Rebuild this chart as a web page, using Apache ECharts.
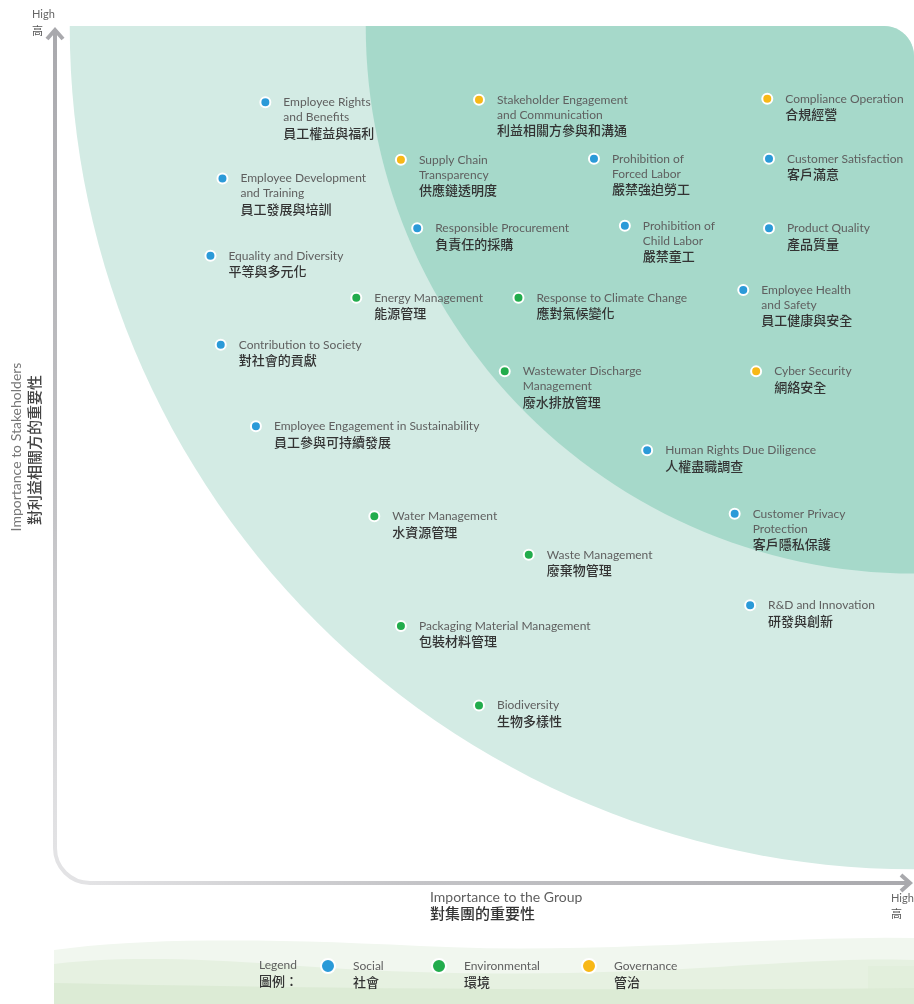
<!DOCTYPE html>
<html>
<head>
<meta charset="utf-8">
<script src="https://cdn.jsdelivr.net/npm/echarts@6/dist/echarts.min.js"></script>
<style>
  html, body { margin: 0; padding: 0; background: #fff; }
  #chart { width: 914px; height: 1004px; }
</style>
</head>
<body>
<div id="chart"></div>
<script>
// materiality topics, english / chinese
const topicsEn = [
  'Employee Rights\nand Benefits', 'Stakeholder Engagement\nand Communication', 'Compliance Operation',
  'Employee Development\nand Training', 'Supply Chain\nTransparency', 'Prohibition of\nForced Labor',
  'Customer Satisfaction', 'Responsible Procurement', 'Prohibition of\nChild Labor', 'Product Quality',
  'Equality and Diversity', 'Energy Management', 'Response to Climate Change',
  'Employee Health\nand Safety', 'Contribution to Society', 'Wastewater Discharge\nManagement',
  'Cyber Security', 'Employee Engagement in Sustainability', 'Human Rights Due Diligence',
  'Water Management', 'Customer Privacy\nProtection', 'Waste Management', 'R&D and Innovation',
  'Packaging Material Management', 'Biodiversity'
];
const topicsZh = [
  '員工權益與福利', '利益相關方參與和溝通', '合規經營',
  '員工發展與培訓', '供應鏈透明度', '嚴禁強迫勞工',
  '客戶滿意', '負責任的採購', '嚴禁童工', '產品質量',
  '平等與多元化', '能源管理', '應對氣候變化',
  '員工健康與安全', '對社會的貢獻', '廢水排放管理',
  '網絡安全', '員工參與可持續發展', '人權盡職調查',
  '水資源管理', '客戶隱私保護', '廢棄物管理', '研發與創新',
  '包裝材料管理', '生物多樣性'
];
// importance to the group (x) and to stakeholders (y), 0-100
const groupImportance = [
  24.4, 49.3, 82.9,
  19.4, 40.2, 62.7,
  83.1, 42.1, 66.3, 83.1,
  18.0, 35.0, 53.9,
  80.1, 19.2, 52.3,
  81.6, 23.3, 68.9,
  37.1, 79.1, 55.1, 80.9,
  40.2, 49.3
];
const stakeholderImportance = [
  91.1, 91.4, 91.5,
  82.2, 84.4, 84.5,
  84.5, 76.4, 76.7, 76.4,
  73.2, 68.3, 68.3,
  69.2, 62.8, 59.7,
  59.7, 53.3, 50.5,
  42.8, 43.1, 38.3, 32.4,
  30.0, 20.7
];
// 0 social, 1 environmental, 2 governance
const pillar = [
  0, 2, 2,
  0, 2, 0,
  0, 0, 0, 0,
  0, 1, 1,
  0, 0, 1,
  2, 0, 0,
  1, 0, 1, 0,
  1, 1
];
const categories = ['Social', 'Environmental', 'Governance'];
const categoriesZh = ['社會', '環境', '管治'];
const categoryColors = ['#2b9ad8', '#22ac4c', '#f8b817'];

// background zones: quarter ellipses around the high/high corner
const zoneCenter = [100, 100];
const zoneRadii = [98.4, 63.9];
const zoneColors = ['#d3ebe4', '#a6d9ca'];

const EN_FONT = 'Lato, "Open Sans", sans-serif';
const ZH_FONT = '"Noto Sans CJK TC", "Noto Sans CJK SC", sans-serif';

const chart = echarts.init(document.getElementById('chart'), null, { renderer: 'canvas' });

function zonePoints(api, radius) {
  const c = api.coord(zoneCenter);
  const rx = api.size([radius, 0])[0];
  const ry = api.size([0, radius])[1];
  const rc = 30;
  const pts = [[c[0] - rx, c[1]]];
  for (let i = 0; i <= 12; i++) {
    const a = -Math.PI / 2 + (Math.PI / 2) * i / 12;
    pts.push([c[0] - rc + rc * Math.cos(a), c[1] + rc + rc * Math.sin(a)]);
  }
  for (let i = 0; i <= 60; i++) {
    const a = Math.PI / 2 + (Math.PI / 2) * i / 60;
    pts.push([c[0] + rx * Math.cos(a), c[1] + ry * Math.sin(a)]);
  }
  return pts;
}

// sample a chain of cubic curves into a closed band down to the page bottom
function wave(start, segs) {
  const pts = [start];
  let p0 = start;
  segs.forEach(function (s) {
    for (let i = 1; i <= 16; i++) {
      const t = i / 16, u = 1 - t;
      pts.push([
        u * u * u * p0[0] + 3 * u * u * t * s[0][0] + 3 * u * t * t * s[1][0] + t * t * t * s[2][0],
        u * u * u * p0[1] + 3 * u * u * t * s[0][1] + 3 * u * t * t * s[1][1] + t * t * t * s[2][1]
      ]);
    }
    p0 = s[2];
  });
  pts.push([914, 1004], [start[0], 1004]);
  return pts;
}

function labelText(i) {
  const en = topicsEn[i].split('\n').map(function (s) { return '{en|' + s + '}'; }).join('\n');
  return en + '\n{zh|' + topicsZh[i] + '}';
}

const series = [{
  type: 'custom',
  silent: true,
  z: 1,
  clip: false,
  data: [zoneCenter],
  renderItem: function (params, api) {
    return {
      type: 'group',
      children: zoneRadii.map(function (r, k) {
        return {
          type: 'polygon',
          shape: { points: zonePoints(api, r) },
          style: { fill: zoneColors[k] }
        };
      })
    };
  }
}];

categories.forEach(function (cat, k) {
  const data = [];
  for (let i = 0; i < topicsEn.length; i++) {
    if (pillar[i] !== k) continue;
    data.push({ value: [groupImportance[i], stakeholderImportance[i]], name: topicsEn[i], label: { formatter: labelText(i) } });
  }
  series.push({
    name: cat,
    type: 'scatter',
    z: 3,
    symbol: 'circle',
    symbolSize: 10,
    itemStyle: { color: categoryColors[k], borderColor: '#fff', borderWidth: 2, opacity: 1 },
    emphasis: { disabled: true },
    label: {
      show: true,
      position: [24, -1.5],
      align: 'left',
      verticalAlign: 'top',
      rich: {
        en: { fontFamily: EN_FONT, fontSize: 12, color: '#5f5f5f', lineHeight: 15 },
        zh: { fontFamily: ZH_FONT, fontSize: 13, fontWeight: 500, color: '#333', lineHeight: 16 }
      }
    },
    data: data
  });
});

const legendX = [320, 431, 581];
const legends = categories.map(function (cat, k) {
  return {
    data: [cat],
    left: legendX[k],
    top: 958,
    padding: 0,
    itemWidth: 14,
    itemHeight: 14,
    icon: 'circle',
    selectedMode: false,
    formatter: function (name) { return '{en|' + name + '}\n{zh|' + categoriesZh[k] + '}'; },
    textStyle: {
      padding: [16, 0, 0, 13],
      rich: {
        en: { fontFamily: EN_FONT, fontSize: 12, color: '#5f5f5f', lineHeight: 16 },
        zh: { fontFamily: ZH_FONT, fontSize: 13, fontWeight: 500, color: '#333', lineHeight: 16 }
      }
    }
  };
});

const axisGrey = '#a9a9ad';
const axisLight = '#e3e3e5';

chart.setOption({
  animation: false,
  grid: { left: 56, right: 0, top: 26, bottom: 121 },
  xAxis: { type: 'value', min: 0, max: 100, show: false },
  yAxis: { type: 'value', min: 0, max: 100, show: false },
  legend: legends,
  graphic: [
    // wavy band behind the legend
    { type: 'polygon', z: 0, silent: true, shape: { points: wave([54, 950], [[[140, 938], [260, 938], [420, 946]], [[600, 955], [760, 936], [914, 938]]]) }, style: { fill: '#f1f7ef' } },
    { type: 'polygon', z: 0, silent: true, shape: { points: wave([54, 964], [[[120, 956], [200, 958], [300, 966]], [[420, 975], [560, 976], [700, 968]], [[800, 962], [860, 958], [914, 960]]]) }, style: { fill: '#e6f1e1' } },
    { type: 'rect', z: 0, silent: true, shape: { x: 868, y: 966, width: 46, height: 24 }, style: { fill: '#e2efdc' } },
    { type: 'polygon', z: 0, silent: true, shape: { points: wave([54, 983], [[[200, 986], [500, 992], [914, 988]]]) }, style: { fill: '#dcebd5' } },
    {
      type: 'text', z: 5, left: 259, top: 959,
      style: { text: '{en|Legend}\n{zh|圖例：}', rich: {
        en: { fontFamily: EN_FONT, fontSize: 12, fill: '#5f5f5f', lineHeight: 16 },
        zh: { fontFamily: ZH_FONT, fontSize: 13, fontWeight: 500, fill: '#333', lineHeight: 16 }
      } }
    },
    // axis frame with rounded corner
    { type: 'line', z: 4, silent: true, shape: { x1: 55, y1: 30, x2: 55, y2: 848 },
      style: { lineWidth: 4, stroke: new echarts.graphic.LinearGradient(0, 0, 0, 1, [{ offset: 0, color: axisGrey }, { offset: 0.6, color: '#c4c4c7' }, { offset: 1, color: axisLight }]) } },
    { type: 'arc', z: 4, silent: true, shape: { cx: 90, cy: 848, r: 35, startAngle: Math.PI / 2, endAngle: Math.PI, clockwise: true }, style: { lineWidth: 4, stroke: axisLight, fill: null } },
    { type: 'line', z: 4, silent: true, shape: { x1: 90, y1: 883, x2: 910, y2: 883 },
      style: { lineWidth: 4, stroke: new echarts.graphic.LinearGradient(0, 0, 1, 0, [{ offset: 0, color: axisLight }, { offset: 0.4, color: '#c4c4c7' }, { offset: 1, color: axisGrey }]) } },
    { type: 'polyline', z: 4, silent: true, shape: { points: [[47, 39], [55, 30], [63, 39]] }, style: { lineWidth: 4, stroke: axisGrey, fill: null } },
    { type: 'polyline', z: 4, silent: true, shape: { points: [[901, 875], [910, 883], [901, 891]] }, style: { lineWidth: 4, stroke: axisGrey, fill: null } },
    // axis captions
    { type: 'text', z: 5, left: 32, top: 9, style: { text: 'High', fontFamily: EN_FONT, fontSize: 11, fill: '#666' } },
    { type: 'text', z: 5, left: 32, top: 25, style: { text: '高', fontFamily: ZH_FONT, fontSize: 11, fill: '#555' } },
    { type: 'text', z: 5, left: 891, top: 893, style: { text: 'High', fontFamily: EN_FONT, fontSize: 11, fill: '#666' } },
    { type: 'text', z: 5, left: 891, top: 908, style: { text: '高', fontFamily: ZH_FONT, fontSize: 11, fill: '#555' } },
    { type: 'text', z: 5, left: 430, top: 890, style: { text: 'Importance to the Group', fontFamily: EN_FONT, fontSize: 14, fill: '#5f5f5f' } },
    { type: 'text', z: 5, left: 430, top: 906, style: { text: '對集團的重要性', fontFamily: ZH_FONT, fontSize: 15, fontWeight: 500, fill: '#333' } },
    { type: 'text', z: 5, x: 16, y: 447, rotation: Math.PI / 2,
      style: { text: 'Importance to Stakeholders', fontFamily: EN_FONT, fontSize: 14, fill: '#777', align: 'center', verticalAlign: 'middle' } },
    { type: 'text', z: 5, x: 34, y: 450, rotation: Math.PI / 2,
      style: { text: '對利益相關方的重要性', fontFamily: ZH_FONT, fontSize: 15, fontWeight: 500, fill: '#444', align: 'center', verticalAlign: 'middle' } }
  ],
  series: series
});
</script>
</body>
</html>
